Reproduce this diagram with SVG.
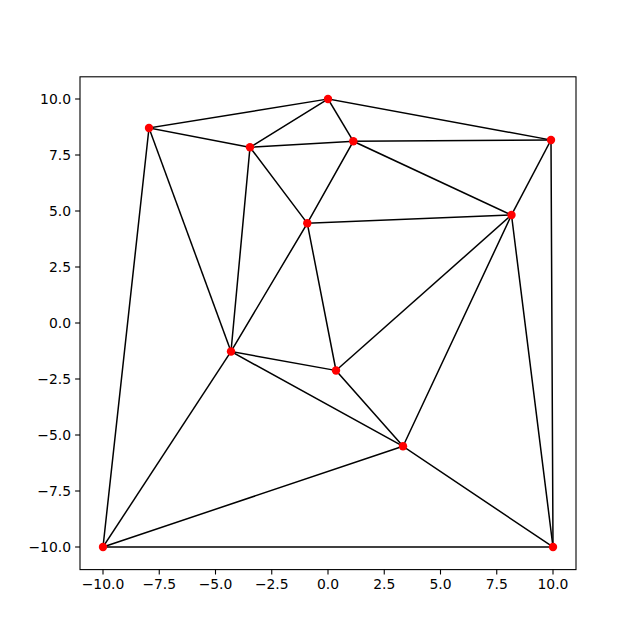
<svg xmlns="http://www.w3.org/2000/svg" width="640" height="640" viewBox="0 0 640 640">
<style>
.edge{stroke:#000;stroke-width:1.5;fill:none;stroke-linecap:square}
.pt{fill:#ff0000}
.frame{fill:none;stroke:#000;stroke-width:1.1}
.tick{stroke:#000;stroke-width:1.1}
.tl{font-family:"DejaVu Sans",sans-serif;font-size:13.9px;fill:#000}
.xl{text-anchor:middle}
.yl{text-anchor:end}
</style>
<rect width="640" height="640" fill="#fff"/>
<g id="connectors">
<line class="edge" x1="149" y1="128" x2="328" y2="99"/>
<line class="edge" x1="328" y1="99" x2="551" y2="140"/>
<line class="edge" x1="149" y1="128" x2="250" y2="147.3"/>
<line class="edge" x1="250" y1="147.3" x2="328" y2="99"/>
<line class="edge" x1="328" y1="99" x2="353.3" y2="141.3"/>
<line class="edge" x1="250" y1="147.3" x2="353.3" y2="141.3"/>
<line class="edge" x1="353.3" y1="141.3" x2="551" y2="140"/>
<line class="edge" x1="353.3" y1="141.3" x2="511.5" y2="215"/>
<line class="edge" x1="551" y1="140" x2="511.5" y2="215"/>
<line class="edge" x1="551" y1="140" x2="553" y2="547"/>
<line class="edge" x1="250" y1="147.3" x2="307.3" y2="223.3"/>
<line class="edge" x1="353.3" y1="141.3" x2="307.3" y2="223.3"/>
<line class="edge" x1="307.3" y1="223.3" x2="511.5" y2="215"/>
<line class="edge" x1="250" y1="147.3" x2="231" y2="351.5"/>
<line class="edge" x1="149" y1="128" x2="231" y2="351.5"/>
<line class="edge" x1="149" y1="128" x2="103" y2="547"/>
<line class="edge" x1="307.3" y1="223.3" x2="231" y2="351.5"/>
<line class="edge" x1="307.3" y1="223.3" x2="336" y2="370.5"/>
<line class="edge" x1="231" y1="351.5" x2="336" y2="370.5"/>
<line class="edge" x1="336" y1="370.5" x2="511.5" y2="215"/>
<line class="edge" x1="336" y1="370.5" x2="403" y2="446.3"/>
<line class="edge" x1="231" y1="351.5" x2="403" y2="446.3"/>
<line class="edge" x1="511.5" y1="215" x2="403" y2="446.3"/>
<line class="edge" x1="511.5" y1="215" x2="553" y2="547"/>
<line class="edge" x1="403" y1="446.3" x2="553" y2="547"/>
<line class="edge" x1="103" y1="547" x2="231" y2="351.5"/>
<line class="edge" x1="103" y1="547" x2="403" y2="446.3"/>
<line class="edge" x1="103" y1="547" x2="553" y2="547"/>
</g>
<g id="n1"><circle class="pt" cx="103" cy="547" r="4.2"/></g>
<g id="n2"><circle class="pt" cx="553" cy="547" r="4.2"/></g>
<g id="n3"><circle class="pt" cx="328" cy="99" r="4.2"/></g>
<g id="n4"><circle class="pt" cx="149" cy="128" r="4.2"/></g>
<g id="n5"><circle class="pt" cx="250" cy="147.3" r="4.2"/></g>
<g id="n6"><circle class="pt" cx="353.3" cy="141.3" r="4.2"/></g>
<g id="n7"><circle class="pt" cx="551" cy="140" r="4.2"/></g>
<g id="n8"><circle class="pt" cx="511.5" cy="215" r="4.2"/></g>
<g id="n9"><circle class="pt" cx="307.3" cy="223.3" r="4.2"/></g>
<g id="n10"><circle class="pt" cx="231" cy="351.5" r="4.2"/></g>
<g id="n11"><circle class="pt" cx="336" cy="370.5" r="4.2"/></g>
<g id="n12"><circle class="pt" cx="403" cy="446.3" r="4.2"/></g>
<g id="axes">
<rect class="frame" x="80" y="76.8" width="496" height="492.8"/>
<g class="tick">
<line x1="103" y1="569.6" x2="103" y2="574.5"/>
<line x1="159.25" y1="569.6" x2="159.25" y2="574.5"/>
<line x1="215.5" y1="569.6" x2="215.5" y2="574.5"/>
<line x1="271.75" y1="569.6" x2="271.75" y2="574.5"/>
<line x1="328" y1="569.6" x2="328" y2="574.5"/>
<line x1="384.25" y1="569.6" x2="384.25" y2="574.5"/>
<line x1="440.5" y1="569.6" x2="440.5" y2="574.5"/>
<line x1="496.75" y1="569.6" x2="496.75" y2="574.5"/>
<line x1="553" y1="569.6" x2="553" y2="574.5"/>
<line x1="75.1" y1="99" x2="80" y2="99"/>
<line x1="75.1" y1="155" x2="80" y2="155"/>
<line x1="75.1" y1="211" x2="80" y2="211"/>
<line x1="75.1" y1="267" x2="80" y2="267"/>
<line x1="75.1" y1="323" x2="80" y2="323"/>
<line x1="75.1" y1="379" x2="80" y2="379"/>
<line x1="75.1" y1="435" x2="80" y2="435"/>
<line x1="75.1" y1="491" x2="80" y2="491"/>
<line x1="75.1" y1="547" x2="80" y2="547"/>
</g>
<g class="tl xl">
<text x="103" y="589">−10.0</text>
<text x="159.25" y="589">−7.5</text>
<text x="215.5" y="589">−5.0</text>
<text x="271.75" y="589">−2.5</text>
<text x="328" y="589">0.0</text>
<text x="384.25" y="589">2.5</text>
<text x="440.5" y="589">5.0</text>
<text x="496.75" y="589">7.5</text>
<text x="553" y="589">10.0</text>
</g>
<g class="tl yl">
<text x="71" y="104">10.0</text>
<text x="71" y="160">7.5</text>
<text x="71" y="216">5.0</text>
<text x="71" y="272">2.5</text>
<text x="71" y="328">0.0</text>
<text x="71" y="384">−2.5</text>
<text x="71" y="440">−5.0</text>
<text x="71" y="496">−7.5</text>
<text x="71" y="552">−10.0</text>
</g>
</g>
</svg>
